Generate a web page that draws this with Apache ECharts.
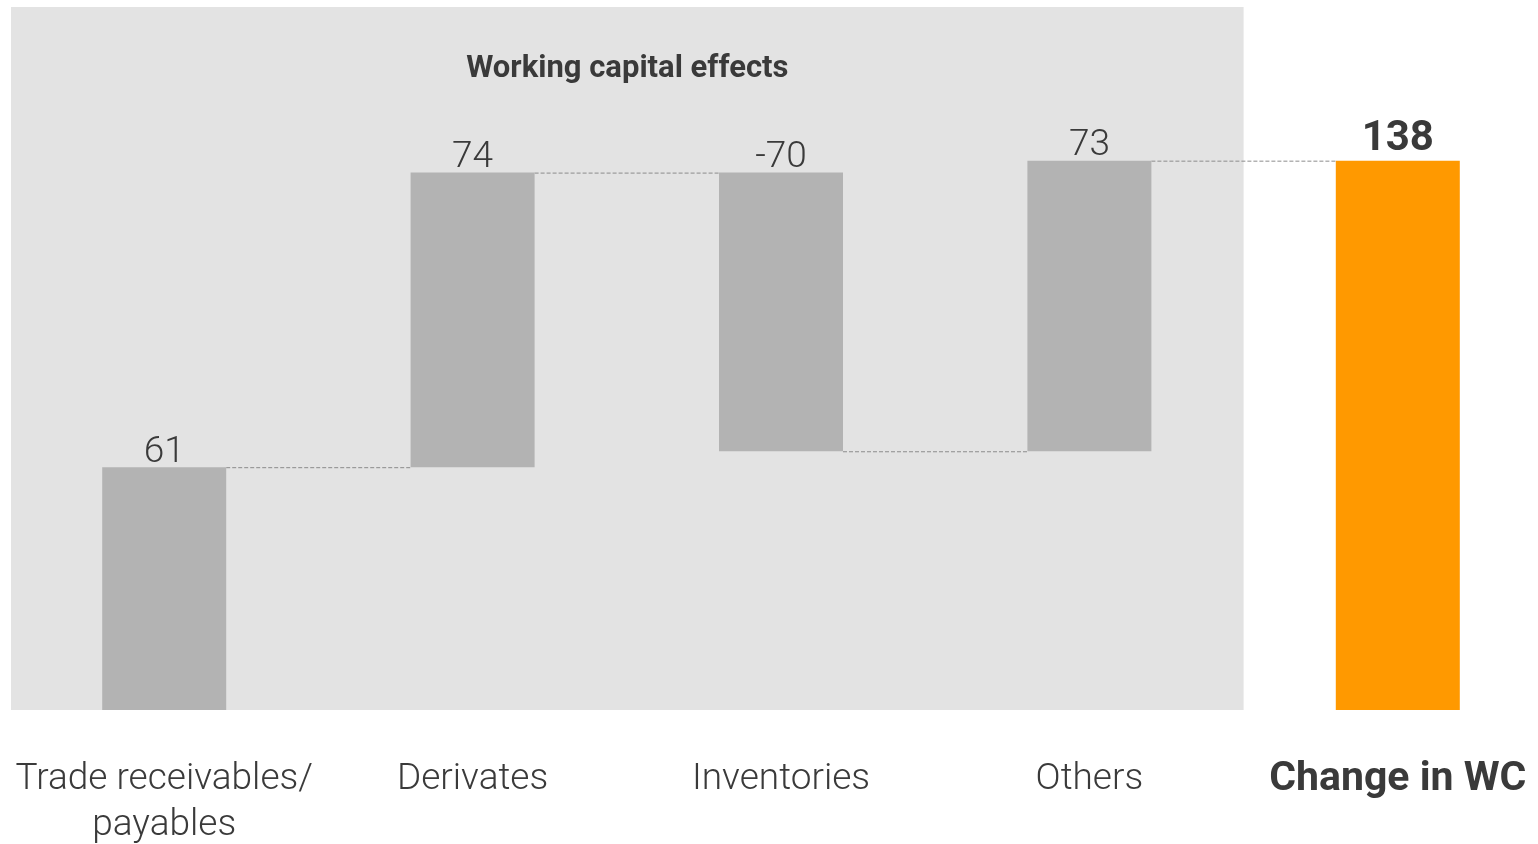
<!DOCTYPE html>
<html>
<head>
<meta charset="utf-8">
<script src="https://cdn.jsdelivr.net/npm/echarts@6/dist/echarts.min.js"></script>
<style>
  html, body { margin: 0; padding: 0; background: #fff; }
  #main { width: 1538px; height: 844px; }
</style>
</head>
<body>
<div id="main"></div>
<script>
// categories and values (EUR m)
const categories = ['Trade receivables/\npayables', 'Derivates', 'Inventories', 'Others', 'Change in WC'];
const deltas = [61, 74, -70, 73];
const total = 138;
const labels = ['61', '74', '-70', '73', '138'];

// running totals for the waterfall
const cum = [];
deltas.reduce((s, d, i) => { cum[i] = s + d; return cum[i]; }, 0);
const base = deltas.map((d, i) => (d >= 0 ? cum[i] - d : cum[i])).concat([0]);
const heights = deltas.map(d => Math.abs(d)).concat([total]);
const levels = cum.slice(); // connector levels

const GRAY = '#b3b3b3';
const ORANGE = '#ff9900';
const TXT = '#3a3a3a';
const BAR_W = 124;
const Y_MAX = 176.6;

const myChart = echarts.init(document.getElementById('main'));

const option = {
  animation: false,
  grid: { left: 10, width: 1542, top: 7, bottom: 134, outerBoundsMode: 'none', containLabel: false },
  xAxis: {
    type: 'category',
    data: categories,
    axisLine: { show: false },
    axisTick: { show: false },
    axisLabel: {
      interval: 0,
      margin: 47,
      fontFamily: 'Roboto',
      fontWeight: 300,
      fontSize: 37,
      lineHeight: 46,
      color: TXT,
      formatter: (v, i) => (i === 4 ? '{b|' + v + '}' : v),
      rich: { b: { fontFamily: 'Roboto', fontWeight: 'bold', fontSize: 41, lineHeight: 46, color: TXT } }
    }
  },
  yAxis: { type: 'value', min: 0, max: Y_MAX, show: false, splitLine: { show: false } },
  series: [
    {
      type: 'bar', stack: 'wf', barWidth: BAR_W, silent: true,
      itemStyle: { color: 'transparent' },
      data: base
    },
    {
      type: 'bar', stack: 'wf', barWidth: BAR_W,
      data: heights.map((h, i) => ({
        value: h,
        itemStyle: { color: i === 4 ? ORANGE : GRAY },
        label: i === 4
          ? { fontWeight: 'bold', fontSize: 42, color: TXT, distance: 0 }
          : {}
      })),
      label: {
        show: true, position: 'top', distance: -4,
        fontFamily: 'Roboto', fontWeight: 300, fontSize: 37, color: TXT,
        formatter: p => labels[p.dataIndex]
      }
    },
    {
      type: 'custom',
      silent: true,
      data: levels.map((v, i) => [i, v]),
      renderItem: (params, api) => {
        const i = api.value(0), v = api.value(1);
        const a = api.coord([i, v]);
        const b = api.coord([i + 1, v]);
        return {
          type: 'line',
          shape: { x1: a[0] + BAR_W / 2, y1: a[1] + 0.5, x2: b[0] - BAR_W / 2, y2: b[1] + 0.5 },
          style: { stroke: '#8c8c8c', lineWidth: 1, lineDash: [4, 2] }
        };
      }
    }
  ]
};
myChart.setOption(option);

// grey panel behind the four effect bars + its heading
const c0 = myChart.convertToPixel({ xAxisIndex: 0 }, categories[0]);
const c1 = myChart.convertToPixel({ xAxisIndex: 0 }, categories[1]);
const c3 = myChart.convertToPixel({ xAxisIndex: 0 }, categories[3]);
const c4 = myChart.convertToPixel({ xAxisIndex: 0 }, categories[4]);
const band = c1 - c0;
const x0 = c0 - band / 2 + 1;
const x1 = (c3 + c4) / 2;
const yTop = myChart.convertToPixel({ yAxisIndex: 0 }, Y_MAX);
const yBot = myChart.convertToPixel({ yAxisIndex: 0 }, 0);
myChart.setOption({
  graphic: [
    {
      type: 'rect', z: -1, silent: true,
      shape: { x: x0, y: yTop, width: x1 - x0, height: yBot - yTop },
      style: { fill: '#e3e3e3' }
    },
    {
      type: 'text', z: 10, silent: true,
      x: (x0 + x1) / 2, y: 69,
      style: {
        text: 'Working capital effects', align: 'center', verticalAlign: 'middle',
        font: 'bold 31px Roboto', fill: TXT
      }
    }
  ]
});
</script>
</body>
</html>
